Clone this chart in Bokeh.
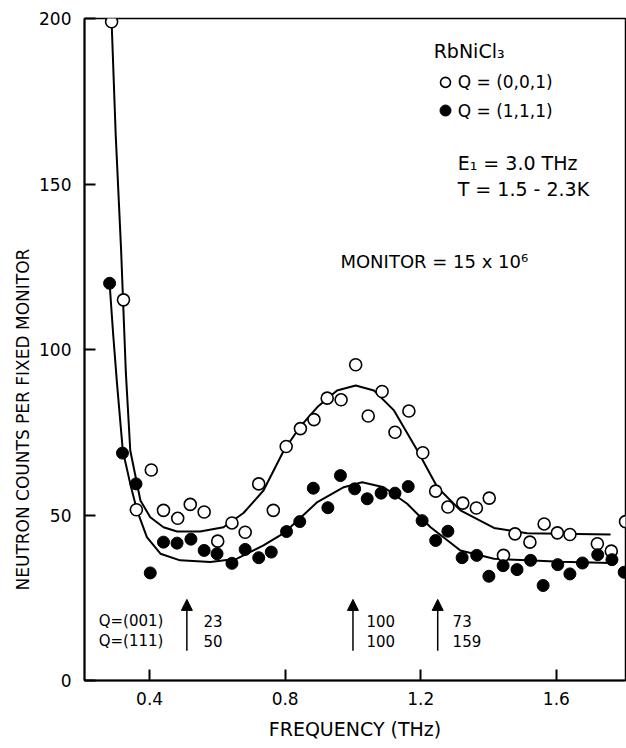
from bokeh.plotting import figure
from bokeh.models import ColumnDataSource, Arrow, NormalHead, FixedTicker, Range1d, Title
from bokeh.core.properties import value
from bokeh.embed import file_html
from bokeh.resources import INLINE

FONT = "DejaVu Sans"

# Open circles: Q = (0,0,1)
open_f = [0.288, 0.323, 0.361, 0.405, 0.441, 0.483, 0.520, 0.561, 0.601, 0.643, 0.682,
          0.722, 0.765, 0.803, 0.845, 0.885, 0.924, 0.965, 1.008, 1.045, 1.086, 1.124,
          1.165, 1.206, 1.244, 1.280, 1.324, 1.364, 1.402, 1.444, 1.478, 1.522, 1.564,
          1.603, 1.640, 1.721, 1.762, 1.804]
open_c = [199, 115, 51.6, 63.6, 51.4, 49.0, 53.2, 50.9, 42.1, 47.6, 44.8,
          59.4, 51.4, 70.7, 76.1, 78.8, 85.3, 84.8, 95.4, 79.9, 87.3, 75.0,
          81.4, 68.8, 57.2, 52.4, 53.6, 52.1, 55.1, 37.8, 44.3, 41.8, 47.3,
          44.6, 44.1, 41.3, 39.1, 48.0]

# Filled circles: Q = (1,1,1)
fill_f = [0.282, 0.320, 0.360, 0.402, 0.441, 0.481, 0.522, 0.561, 0.599, 0.643, 0.682,
          0.722, 0.759, 0.804, 0.843, 0.883, 0.926, 0.963, 1.005, 1.042, 1.083, 1.124,
          1.163, 1.204, 1.244, 1.280, 1.322, 1.365, 1.401, 1.443, 1.484, 1.524, 1.561,
          1.604, 1.640, 1.677, 1.722, 1.764, 1.800]
fill_c = [120, 68.7, 59.4, 32.5, 41.8, 41.5, 42.7, 39.3, 38.3, 35.4, 39.6,
          37.1, 38.8, 45.0, 48.0, 58.1, 52.2, 61.9, 57.9, 54.9, 56.6, 56.6,
          58.6, 48.3, 42.3, 45.1, 37.1, 37.8, 31.5, 34.7, 33.5, 36.3, 28.7,
          35.0, 32.2, 35.5, 38.0, 36.5, 32.7]

# Fitted curves
fit_open_f = [0.288, 0.300, 0.316, 0.330, 0.343, 0.373, 0.402, 0.441, 0.481, 0.549, 0.618,
              0.677, 0.736, 0.796, 0.845, 0.895, 0.953, 1.008, 1.062, 1.121, 1.190, 1.249,
              1.317, 1.416, 1.514, 1.612, 1.760]
fit_open_c = [199, 165, 130, 93, 69.5, 54.4, 49.3, 46.3, 45.0, 45.0, 46.3,
              50.6, 57.4, 69.5, 76.8, 82.6, 87.6, 89.1, 87.6, 81.6, 69.5, 58.4,
              51.4, 46.1, 44.5, 44.3, 44.1]
fit_fill_f = [0.282, 0.293, 0.304, 0.321, 0.343, 0.363, 0.392, 0.432, 0.490, 0.579, 0.658,
              0.736, 0.796, 0.895, 0.973, 1.027, 1.091, 1.160, 1.229, 1.317, 1.416, 1.514,
              1.612, 1.760]
fit_fill_c = [120, 104, 89.6, 69.5, 59.4, 51.4, 43.3, 38.3, 36.3, 35.8, 36.8,
              40.8, 44.5, 53.9, 58.4, 59.9, 58.4, 53.4, 46.3, 39.3, 36.8, 36.3,
              35.9, 35.5]

x_ticks = [0.4, 0.8, 1.2, 1.6]
y_ticks = [0, 50, 100, 150, 200]

# Arrows marking calculated positions and relative intensities
arrow_f = [0.51, 1.0, 1.25]
arrow_lo = [9, 9, 9]
arrow_hi = [24.5, 24.5, 24.5]
int_001 = ["23", "100", "73"]
int_111 = ["50", "100", "159"]
int_x = [0.559, 1.040, 1.294]

p = figure(width=626, height=748, output_backend="svg", toolbar_location=None,
           x_range=Range1d(0.208, 1.804), y_range=Range1d(0, 200),
           min_border_left=84, min_border_right=1, min_border_top=18, min_border_bottom=68)
p.background_fill_color = "white"
p.grid.visible = False
p.outline_line_color = "black"
p.outline_line_width = 1.5

for ax in (p.xaxis[0], p.yaxis[0]):
    ax.axis_line_width = 2
    ax.major_tick_in = 11
    ax.major_tick_out = 0
    ax.major_tick_line_width = 2
    ax.minor_tick_line_color = None
    ax.major_label_text_font = FONT
    ax.major_label_text_font_size = "17px"
    ax.major_label_text_color = "black"
    ax.axis_label_text_font = FONT
    ax.axis_label_text_font_style = "normal"
    ax.axis_label_text_color = "black"

p.xaxis.ticker = FixedTicker(ticks=x_ticks)
p.yaxis.ticker = FixedTicker(ticks=y_ticks)
p.xaxis.axis_label = "FREQUENCY (THz)"
p.xaxis.axis_label_text_font_size = "19px"
p.xaxis.major_label_standoff = 11
p.yaxis.major_label_standoff = 13
p.xaxis.axis_label_standoff = 10

# y-axis title, placed as in the original (below the frame centre)
p.add_layout(Title(text="NEUTRON COUNTS PER FIXED MONITOR", align="left", offset=90,
                   text_font=FONT, text_font_size="17px", text_font_style="normal",
                   text_color="black", standoff=8), "left")

p.line(fit_open_f, fit_open_c, line_color="black", line_width=2)
p.line(fit_fill_f, fit_fill_c, line_color="black", line_width=2)

p.scatter(open_f, open_c, size=12, marker="circle", fill_color="white",
          line_color="black", line_width=1.6)
p.scatter(fill_f, fill_c, size=12, marker="circle", fill_color="black",
          line_color="black")

# Legend / annotation block
p.text([1.238], [190.3], text=["RbNiCl₃"], text_font=value(FONT), text_font_size="19px",
       text_baseline="middle", text_color="black")
p.scatter([1.273], [180.7], size=10, marker="circle", fill_color="white", line_color="black", line_width=1.6)
p.scatter([1.273], [172.2], size=11, marker="circle", fill_color="black", line_color="black")
p.text([1.309, 1.309], [180.7, 172.2], text=["Q  =  (0,0,1)", "Q  =  (1,1,1)"],
       text_font=value(FONT), text_font_size="17px", text_baseline="middle", text_color="black")
p.text([1.309, 1.309], [156.2, 148.6], text=["E₁    =    3.0    THz", "T    =    1.5    -    2.3K"],
       text_font=value(FONT), text_font_size="19px", text_baseline="middle", text_color="black")
p.text([0.963], [126.5], text=["MONITOR  =  15  x  10⁶"],
       text_font=value(FONT), text_font_size="18px", text_baseline="middle", text_color="black")

# Bottom intensity table
p.text([0.250, 0.250], [18.1, 11.8], text=["Q=(001)", "Q=(111)"],
       text_font=value(FONT), text_font_size="15px", text_baseline="middle", text_color="black")
p.text(int_x, [18.1] * 3, text=int_001, text_font=value(FONT), text_font_size="15px",
       text_baseline="middle", text_color="black")
p.text(int_x, [11.8] * 3, text=int_111, text_font=value(FONT), text_font_size="15px",
       text_baseline="middle", text_color="black")

asrc = ColumnDataSource(dict(x=arrow_f, y0=arrow_lo, y1=arrow_hi))
p.add_layout(Arrow(end=NormalHead(size=11, fill_color="black", line_color="black"),
                   x_start="x", y_start="y0", x_end="x", y_end="y1", source=asrc,
                   line_color="black", line_width=1.5))

open("out.html", "w").write(file_html(p, INLINE))
